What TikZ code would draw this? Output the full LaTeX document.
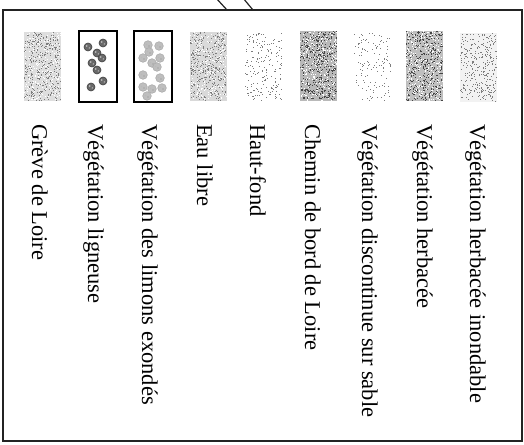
\documentclass[tikz,border=0pt]{standalone}
\usepackage{fontspec}
\setmainfont{Liberation Serif}
\usetikzlibrary{calc}
\definecolor{framegray}{RGB}{35,35,35}
\definecolor{dotgray}{RGB}{125,125,125}
\definecolor{dotdark}{RGB}{70,70,70}
\definecolor{blobfill}{RGB}{105,105,105}
\definecolor{blobpale}{RGB}{190,190,190}
\newcommand{\legstipple}[6]{%
  \foreach \k in {1,...,#5}{\fill[#6] ({#1+(#3-0.9)*rnd},{#2+(#4-0.9)*rnd}) rectangle +(0.9,0.9);}}

\begin{document}
\begin{tikzpicture}[x=1bp, y=-1bp,
  legtext/.style={rotate=-90, anchor=base west, inner sep=0pt, font=\fontsize{22.6}{26}\selectfont},
  swbox/.style={line width=1.3bp, draw=black}]
  \useasboundingbox (0,0) rectangle (524,445);
  \pgfmathsetseed{4217}
  \draw[line width=1.4bp, framegray] (3,10) rectangle (522,441);
  \coordinate (ptrA) at (216,-2);
  \coordinate (ptrAend) at (227,10);
  \coordinate (ptrB) at (243,-2);
  \coordinate (ptrBend) at (253,10);
  \draw[line width=1.2bp, framegray] (ptrA) -- (ptrAend);
  \draw[line width=1.2bp, framegray] (ptrB) -- (ptrBend);

  \fill[gray!26] (24,32) rectangle +(37,69);
  \legstipple{24}{32}{37}{69}{380}{dotgray}
  \legstipple{24}{32}{37}{69}{220}{white}

  \draw[swbox] (79,31) rectangle (117,102);
  \foreach \bx/\by in {88/47,103/43,97/53,102/58,92/63,97/70,103/81,91/87}{
    \filldraw[fill=blobfill, draw=black!75, line width=0.6bp] (\bx,\by) circle (4);
    \fill[gray!40] (\bx-1.2,\by-1) circle (0.9);
    \fill[gray!40] (\bx+1.3,\by+1) circle (0.7);
  }

  \draw[swbox] (134,31) rectangle (172,102);
  \foreach \bx/\by in {148/45,159/46,149/52,143/58,160/58,152/63,157/67,143/75,160/78,143/87,152/89,162/88,147/96}{
    \filldraw[fill=blobpale, draw=gray!65, line width=0.6bp] (\bx,\by) circle (4.3);
    \fill[gray!70] (\bx+1,\by+1) circle (0.9);
    \fill[gray!55] (\bx-1.5,\by-0.5) circle (0.7);
  }

  \fill[gray!30] (190,32) rectangle +(37,69);
  \legstipple{190}{32}{37}{69}{380}{dotgray}
  \legstipple{190}{32}{37}{69}{220}{white}

  \legstipple{245}{33}{37}{68}{200}{dotgray}

  \fill[gray!55] (300,31) rectangle +(37,70);
  \legstipple{300}{31}{37}{70}{480}{dotdark}
  \legstipple{300}{31}{37}{70}{260}{white}

  \legstipple{354}{33}{38}{68}{130}{dotgray}

  \fill[gray!50] (406,31) rectangle +(37,70);
  \legstipple{406}{31}{37}{70}{440}{dotdark}
  \legstipple{406}{31}{37}{70}{260}{white}

  \fill[gray!10] (460,33) rectangle +(37,69);
  \legstipple{460}{33}{37}{69}{330}{dotgray}

  \node[legtext] (greve) at (32,124) {Grève de Loire};
  \node[legtext] (ligneuse) at (88,124) {Végétation ligneuse};
  \node[legtext] (limons) at (142,124) {Végétation des limons exondés};
  \node[legtext] (eau) at (197,124) {Eau libre};
  \node[legtext] (hautfond) at (250,124) {Haut-fond};
  \node[legtext] (chemin) at (305,124) {Chemin de bord de Loire};
  \node[legtext] (discont) at (362,124) {Végétation discontinue sur sable};
  \node[legtext] (herbacee) at (417,124) {Végétation herbacée};
  \node[legtext] (inondable) at (470,124) {Végétation herbacée inondable};
\end{tikzpicture}
\end{document}
